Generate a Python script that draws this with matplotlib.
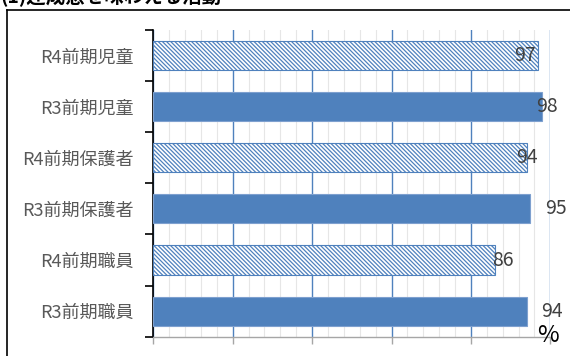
import matplotlib.pyplot as plt
from matplotlib.lines import Line2D
from matplotlib.ticker import MultipleLocator, FixedLocator, NullFormatter
import numpy as np

plt.rcParams['font.family'] = ['Noto Sans CJK JP', 'DejaVu Sans']
plt.rcParams['hatch.linewidth'] = 0.9

# Survey results, top to bottom
categories = ["R4前期児童", "R3前期児童", "R4前期保護者",
              "R3前期保護者", "R4前期職員", "R3前期職員"]
values = [97, 98, 94, 95, 86, 94]
hatched = [True, False, True, False, True, False]
# horizontal nudge of each value label from the bar end, in points
label_dx = [-10, 3, 0, 18, 6, 18]

blue = "#4F81BD"

fig = plt.figure(figsize=(5.7, 3.56), dpi=100)
ax = fig.add_axes([0.269, 0.0542, 0.6965, 0.8615])

y = np.arange(len(categories))
for yi, v, h in zip(y, values, hatched):
    if h:
        ax.barh(yi, v, height=0.57, color="white", edgecolor=blue,
                hatch="\\" * 8, linewidth=0.8, zorder=3)
    else:
        ax.barh(yi, v, height=0.57, color=blue, edgecolor="#7EA0CF",
                linewidth=0.8, zorder=3)

for yi, v, dx in zip(y, values, label_dx):
    ax.annotate(str(v), (v, yi), xytext=(dx, 0), textcoords="offset points",
                ha="center", va="center", fontsize=14, color="#404040",
                zorder=5)

ax.set_xlim(0, 100)
ax.set_ylim(len(categories) - 0.5, -0.5)

# gridlines: blue every 20, light grey every 4
ax.xaxis.set_major_locator(MultipleLocator(20))
ax.xaxis.set_minor_locator(MultipleLocator(4))
ax.xaxis.set_major_formatter(NullFormatter())
ax.grid(axis="x", which="minor", color="#E6E6E6", linewidth=0.8, zorder=0)
ax.grid(axis="x", which="major", color=blue, linewidth=1.0, zorder=1)
ax.set_axisbelow(True)
ax.tick_params(axis="x", which="major", direction="out", length=5,
               color="#A6A6A6", width=1)
ax.tick_params(axis="x", which="minor", length=0)

# category labels, with tick marks between the categories
ax.set_yticks(y)
ax.set_yticklabels(categories, fontsize=13, color="#595959")
ax.tick_params(axis="y", which="major", length=0, pad=14)
ax.yaxis.set_minor_locator(FixedLocator(np.arange(-0.5, len(categories), 1)))
ax.tick_params(axis="y", which="minor", direction="out", length=6,
               width=1.2, color="black")

for s in ["top", "right"]:
    ax.spines[s].set_visible(False)
ax.spines["left"].set_color("black")
ax.spines["left"].set_linewidth(1.2)
ax.spines["bottom"].set_color("#A6A6A6")
ax.spines["bottom"].set_linewidth(1.0)

fig.text(548 / 570, 1 - 336 / 356, "%", fontsize=17, color="black",
         ha="center", va="center")

# outer frame of the chart area
fig.add_artist(Line2D([6.5 / 570, 6.5 / 570], [1 - 9.5 / 356, 0],
                      color="black", linewidth=1.2))
fig.add_artist(Line2D([6.5 / 570, 1], [1 - 9.5 / 356, 1 - 9.5 / 356],
                      color="black", linewidth=1.2))

# heading sits above the frame
fig.text(0.0, 1 - 3 / 356, "(1)達成感を味わえる活動", fontsize=14,
         fontweight="bold", ha="left", va="baseline")

fig.savefig("out.png", dpi=100)
